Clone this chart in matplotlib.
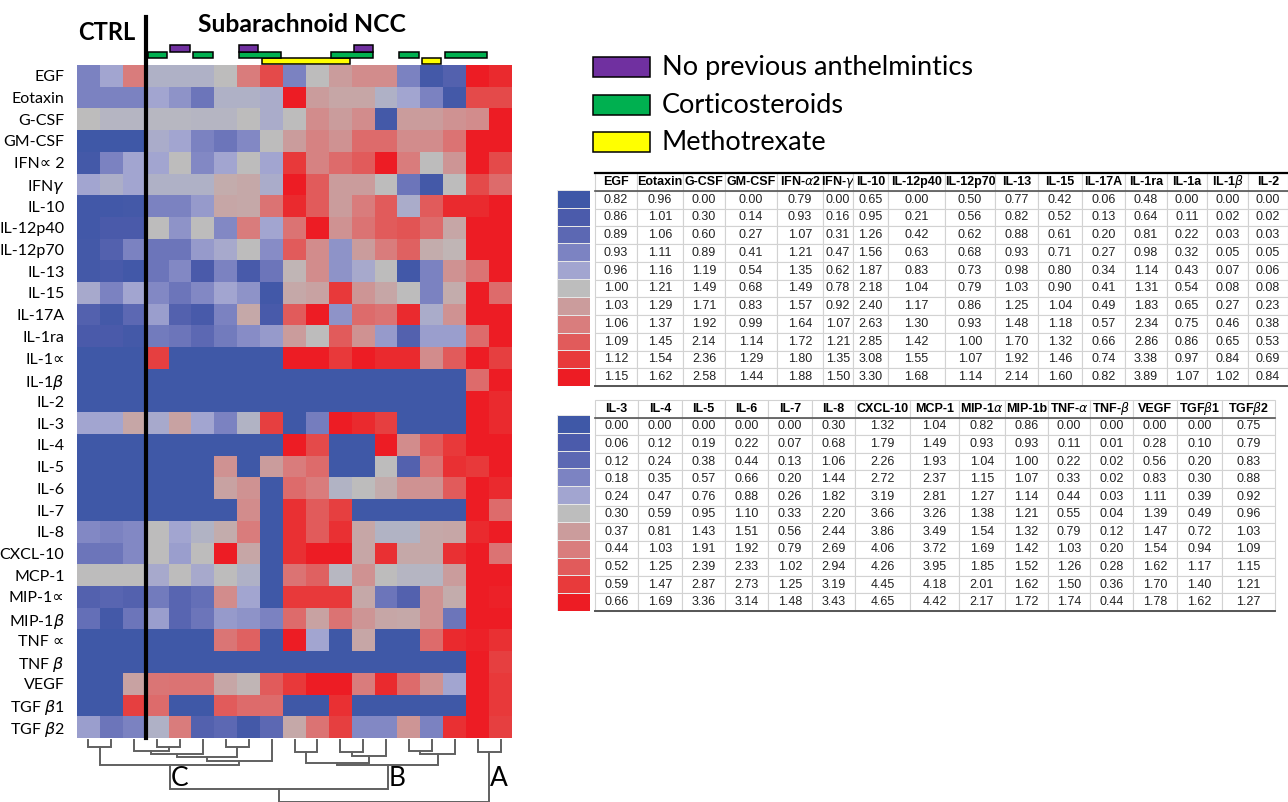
import matplotlib
matplotlib.use('Agg')
import matplotlib.pyplot as plt
import numpy as np
from matplotlib.colors import LinearSegmentedColormap, ListedColormap
from matplotlib.patches import Rectangle

W, H = 1288, 802
LABEL_FONT = ['Lato', 'DejaVu Sans']
TABLE_FONT = ['Liberation Sans', 'DejaVu Sans']

# heatmap rows (cytokines)
cytokines = ['EGF', 'Eotaxin', 'G-CSF', 'GM-CSF', 'IFN∝ 2', 'IFN$\\gamma$', 'IL-10',
             'IL-12p40', 'IL-12p70', 'IL-13', 'IL-15', 'IL-17A', 'IL-1ra', 'IL-1∝',
             'IL-1$\\beta$', 'IL-2', 'IL-3', 'IL-4', 'IL-5', 'IL-6', 'IL-7', 'IL-8',
             'CXCL-10', 'MCP-1', 'MIP-1∝', 'MIP-1$\\beta$', 'TNF ∝', 'TNF $\\beta$',
             'VEGF', 'TGF $\\beta$1', 'TGF $\\beta$2']
n_ctrl = 3

# colour level of every cell, 0 = darkest blue, 5 = grey, 10 = brightest red
# columns: 3 CTRL then 16 subarachnoid NCC
heat_levels = [
    [3, 4, 7, 4.5, 4.5, 4.5, 5, 7, 8.5, 3, 5, 6, 6.5, 6.5, 3, 0.5, 1.5, 10, 9.5],
    [3, 3, 3, 4, 3.5, 2.5, 4.5, 4.5, 4.3, 10, 6, 5.7, 5.7, 4.5, 4, 3, 0.5, 8.5, 8.5],
    [5, 4.7, 4.7, 4.8, 4.8, 4.7, 4.7, 5, 4.3, 5, 6.5, 6, 6.5, 0.5, 6, 6, 6.3, 6.5, 10],
    [0, 0, 0, 4.3, 4, 3, 2.5, 3.2, 5, 6, 6.8, 6.3, 7.5, 7.5, 6.5, 6.5, 7.3, 10, 10],
    [0.5, 3, 4, 4, 5, 3.2, 4, 5, 4, 9, 6.8, 7.5, 8, 10, 7, 5, 6.2, 10, 8.5],
    [4, 4.4, 4, 4.5, 4.5, 4.5, 5.5, 5.6, 4.3, 10, 8, 6, 6, 5, 2.5, 0.5, 5, 8.5, 7.5],
    [0.3, 0.3, 0.5, 3, 3, 3.7, 5.7, 5.6, 7.3, 9.5, 8, 6, 7, 8, 4.3, 8, 9.5, 9.5, 10],
    [0.3, 1, 1, 5, 3.5, 5, 3.2, 7, 4, 7.3, 10, 6.3, 7.3, 8, 8.2, 7.5, 5.7, 10, 10],
    [0.5, 1.5, 3, 2.5, 2.5, 3.7, 4.2, 5, 3.3, 8, 6.5, 3.5, 6, 7, 7.8, 5.5, 5.2, 10, 10],
    [0.5, 0.8, 0.3, 2.5, 3.2, 1, 3, 0.8, 2.5, 5.2, 6.5, 3.5, 4.2, 5, 0.3, 3, 6.3, 7.3, 10],
    [4.2, 3, 4, 3.2, 2.5, 3.2, 4, 3.5, 0.3, 5.6, 5.8, 9, 6.2, 5.7, 5, 3, 5.5, 10, 7.5],
    [1.5, 0.5, 2, 3.8, 1.5, 0.8, 3, 5.6, 0.8, 8, 10, 3.5, 7.5, 7.3, 9.5, 4.3, 6.3, 10, 10],
    [1, 1, 0.5, 2.7, 2.5, 2, 2.7, 3.3, 3.7, 6, 5, 8, 6.3, 3.7, 1.5, 3.8, 3.8, 7.5, 10],
    [0, 0, 0, 8.8, 0, 0, 0, 0, 0, 10, 10, 9, 10, 9.5, 9.5, 6.5, 8, 10, 8.8],
    [0, 0, 0, 0, 0, 0, 0, 0, 0, 0, 0, 0, 0, 0, 0, 0, 0, 7.5, 10],
    [0, 0, 0, 0, 0, 0, 0, 0, 0, 0, 0, 0, 0, 0, 0, 0, 0, 10, 9.5],
    [4, 4, 5.7, 4.2, 5.8, 4, 3, 4.6, 8.8, 0, 2.8, 10, 9.5, 8.8, 0, 0, 0, 10, 9.5],
    [0, 0, 0, 0, 0, 0, 0, 0, 0, 10, 8.5, 0, 0, 10, 6.5, 8, 9, 10, 10],
    [0, 0, 0, 0, 0, 0, 6.3, 0, 6, 7, 7.5, 0, 0, 5, 1.5, 7.3, 9.3, 9, 10],
    [0, 0, 0, 0, 0, 0, 5.8, 6.3, 0, 7.5, 7, 4.6, 5, 5.5, 6.3, 6.3, 8, 10, 9.5],
    [0, 0, 0, 0, 0, 0, 0, 6.5, 0, 9.3, 8, 8.8, 0, 0, 0, 0, 0, 10, 7.5],
    [3.2, 3, 3.2, 5, 4, 4.6, 5.5, 7, 0, 9.3, 8, 9.3, 5.7, 4.6, 4.6, 5.6, 5.7, 9.5, 10],
    [2.5, 2.5, 3.2, 5, 3.8, 5, 10, 5.7, 0, 9.3, 10, 10, 5.7, 9.3, 5.6, 5.6, 9.3, 10, 7.3],
    [5, 5, 5, 4.2, 5, 4.2, 5, 4.5, 0, 7.3, 7.8, 4.8, 6.3, 5, 4.7, 4.7, 6, 10, 10],
    [1.5, 1.8, 1.5, 2.7, 1.8, 2.3, 6.5, 4, 0, 9, 9, 9, 5.6, 2.5, 1.5, 6.3, 5.5, 10, 9.8],
    [2.3, 0.5, 2.5, 3.8, 1.8, 2.5, 3.7, 3.5, 3, 7.5, 5.8, 7.3, 6.2, 5.7, 5.6, 6.3, 2.5, 10, 10],
    [0, 0, 0, 0, 0, 0, 7.2, 7.8, 0, 10, 4, 0, 5.7, 0, 0, 7.5, 9.5, 9.8, 9.3],
    [0, 0, 0, 0, 0, 0, 0, 0, 0, 0, 0, 0, 0, 0, 0, 0, 0, 10, 8.8],
    [0, 0, 5.8, 7.2, 7.3, 7.3, 5.7, 5.2, 8, 9, 10, 10, 7, 9.5, 7.5, 6.3, 4, 10, 9],
    [0, 0, 8.8, 7.5, 0, 0, 8, 7.5, 7.5, 0, 0, 9.3, 0, 0, 0, 0, 0, 10, 9],
    [3.8, 2.5, 3, 4.5, 7, 1.5, 2, 0.5, 2, 5.6, 7.3, 8.8, 3.2, 3.2, 6.2, 3, 9.3, 10, 8.8],
]

# 11-step scale, blue -> grey -> red
scale_colors = ['#3F58A7', '#4B5BAB', '#5C68B3', '#7C83C2', '#A2A5D0', '#BDBDBD',
                '#CB9C9C', '#D97D7D', '#E15B5B', '#E83A3B', '#ED1C24']

# treatment bars above the columns (first col, last col)
no_anthelm_spans = [(4, 4), (7, 7), (12, 12)]
cortico_spans = [(3, 3), (5, 5), (7, 8), (11, 12), (14, 14), (16, 17)]
mtx_spans = [(8, 11), (15, 15)]
legend_labels = ['No previous anthelmintics', 'Corticosteroids', 'Methotrexate']
legend_colors = ['#7030A0', '#00B050', '#FFFF00']

# column dendrogram: (left, right, height below heatmap in px); leaves 0..18
dendro_merges = [
    (0, 1, 9), (3, 4, 9), (2, 20, 13), (21, 5, 16), (6, 7, 9), (22, 23, 19),
    (24, 8, 23), (19, 25, 27),
    (9, 10, 14), (11, 12, 14), (28, 13, 18), (27, 29, 25), (14, 15, 13),
    (31, 16, 16), (30, 32, 27),
    (26, 33, 51), (17, 18, 14), (34, 35, 64),
]
cluster_labels = {26: 'C', 33: 'B', 35: 'A'}

# colour-scale tables
tab1_cols = ['EGF', 'Eotaxin', 'G-CSF', 'GM-CSF', 'IFN-$\\alpha$2', 'IFN-$\\gamma$', 'IL-10',
             'IL-12p40', 'IL-12p70', 'IL-13', 'IL-15', 'IL-17A', 'IL-1ra', 'IL-1a',
             'IL-1$\\beta$', 'IL-2']
tab1_vals = [
    [0.82, 0.86, 0.89, 0.93, 0.96, 1.00, 1.03, 1.06, 1.09, 1.12, 1.15],
    [0.96, 1.01, 1.06, 1.11, 1.16, 1.21, 1.29, 1.37, 1.45, 1.54, 1.62],
    [0.00, 0.30, 0.60, 0.89, 1.19, 1.49, 1.71, 1.92, 2.14, 2.36, 2.58],
    [0.00, 0.14, 0.27, 0.41, 0.54, 0.68, 0.83, 0.99, 1.14, 1.29, 1.44],
    [0.79, 0.93, 1.07, 1.21, 1.35, 1.49, 1.57, 1.64, 1.72, 1.80, 1.88],
    [0.00, 0.16, 0.31, 0.47, 0.62, 0.78, 0.92, 1.07, 1.21, 1.35, 1.50],
    [0.65, 0.95, 1.26, 1.56, 1.87, 2.18, 2.40, 2.63, 2.85, 3.08, 3.30],
    [0.00, 0.21, 0.42, 0.63, 0.83, 1.04, 1.17, 1.30, 1.42, 1.55, 1.68],
    [0.50, 0.56, 0.62, 0.68, 0.73, 0.79, 0.86, 0.93, 1.00, 1.07, 1.14],
    [0.77, 0.82, 0.88, 0.93, 0.98, 1.03, 1.25, 1.48, 1.70, 1.92, 2.14],
    [0.42, 0.52, 0.61, 0.71, 0.80, 0.90, 1.04, 1.18, 1.32, 1.46, 1.60],
    [0.06, 0.13, 0.20, 0.27, 0.34, 0.41, 0.49, 0.57, 0.66, 0.74, 0.82],
    [0.48, 0.64, 0.81, 0.98, 1.14, 1.31, 1.83, 2.34, 2.86, 3.38, 3.89],
    [0.00, 0.11, 0.22, 0.32, 0.43, 0.54, 0.65, 0.75, 0.86, 0.97, 1.07],
    [0.00, 0.02, 0.03, 0.05, 0.07, 0.08, 0.27, 0.46, 0.65, 0.84, 1.02],
    [0.00, 0.02, 0.03, 0.05, 0.06, 0.08, 0.23, 0.38, 0.53, 0.69, 0.84],
]
tab1_widths = [42, 46, 42, 52, 46, 30, 35, 57, 50, 43, 44, 43, 42, 40, 41, 40]

tab2_cols = ['IL-3', 'IL-4', 'IL-5', 'IL-6', 'IL-7', 'IL-8', 'CXCL-10', 'MCP-1',
             'MIP-1$\\alpha$', 'MIP-1b', 'TNF-$\\alpha$', 'TNF-$\\beta$', 'VEGF',
             'TGF$\\beta$1', 'TGF$\\beta$2']
tab2_vals = [
    [0.00, 0.06, 0.12, 0.18, 0.24, 0.30, 0.37, 0.44, 0.52, 0.59, 0.66],
    [0.00, 0.12, 0.24, 0.35, 0.47, 0.59, 0.81, 1.03, 1.25, 1.47, 1.69],
    [0.00, 0.19, 0.38, 0.57, 0.76, 0.95, 1.43, 1.91, 2.39, 2.87, 3.36],
    [0.00, 0.22, 0.44, 0.66, 0.88, 1.10, 1.51, 1.92, 2.33, 2.73, 3.14],
    [0.00, 0.07, 0.13, 0.20, 0.26, 0.33, 0.56, 0.79, 1.02, 1.25, 1.48],
    [0.30, 0.68, 1.06, 1.44, 1.82, 2.20, 2.44, 2.69, 2.94, 3.19, 3.43],
    [1.32, 1.79, 2.26, 2.72, 3.19, 3.66, 3.86, 4.06, 4.26, 4.45, 4.65],
    [1.04, 1.49, 1.93, 2.37, 2.81, 3.26, 3.49, 3.72, 3.95, 4.18, 4.42],
    [0.82, 0.93, 1.04, 1.15, 1.27, 1.38, 1.54, 1.69, 1.85, 2.01, 2.17],
    [0.86, 0.93, 1.00, 1.07, 1.14, 1.21, 1.32, 1.42, 1.52, 1.62, 1.72],
    [0.00, 0.11, 0.22, 0.33, 0.44, 0.55, 0.79, 1.03, 1.26, 1.50, 1.74],
    [0.00, 0.01, 0.02, 0.02, 0.03, 0.04, 0.12, 0.20, 0.28, 0.36, 0.44],
    [0.00, 0.28, 0.56, 0.83, 1.11, 1.39, 1.47, 1.54, 1.62, 1.70, 1.78],
    [0.00, 0.10, 0.20, 0.30, 0.39, 0.49, 0.72, 0.94, 1.17, 1.40, 1.62],
    [0.75, 0.79, 0.83, 0.88, 0.92, 0.96, 1.03, 1.09, 1.15, 1.21, 1.27],
]
tab2_widths = [43, 44, 43, 43, 44, 43, 55, 49, 46, 43, 42, 43, 44, 45, 53]


def px_box(x0, y0, x1, y1):
    return [x0 / W, 1 - y1 / H, (x1 - x0) / W, (y1 - y0) / H]


fig = plt.figure(figsize=(W / 100, H / 100), dpi=100)
fig.patch.set_facecolor('white')

# ---- heatmap
cmap = LinearSegmentedColormap.from_list('bgr', scale_colors)
data = np.array(heat_levels)
n_rows, n_cols = data.shape
HM = (77, 65, 512, 738)
ax = fig.add_axes(px_box(*HM))
ax.imshow(data, cmap=cmap, vmin=0, vmax=10, aspect='auto', interpolation='nearest')
ax.set_yticks(range(n_rows))
ax.set_yticklabels(cytokines, fontsize=11.5, family=LABEL_FONT)
ax.set_xticks([])
ax.tick_params(length=0, pad=9)
for s in ax.spines.values():
    s.set_visible(False)
ax.axvline(n_ctrl - 0.5, ymin=0, ymax=(HM[3] - 17) / (HM[3] - HM[1]),
           color='black', lw=3, clip_on=False)

fig.text(78 / W, 1 - 33 / H, 'CTRL', fontsize=17, fontweight='bold',
         family=LABEL_FONT, ha='left', va='center')
fig.text(302 / W, 1 - 25 / H, 'Subarachnoid NCC', fontsize=17.8, fontweight='bold',
         family=LABEL_FONT, ha='center', va='center')

# ---- treatment bars
tax = fig.add_axes(px_box(77, 40, 512, 65))
tax.set_xlim(-0.5, n_cols - 0.5)
tax.set_ylim(65, 40)
tax.axis('off')
bar_rows = [(mtx_spans, legend_colors[2], 58, 64),
            (cortico_spans, legend_colors[1], 52, 58),
            (no_anthelm_spans, legend_colors[0], 45, 52)]
for spans, col, y0, y1 in bar_rows:
    for a, b in spans:
        tax.add_patch(Rectangle((a - 0.42, y0), b - a + 0.84, y1 - y0,
                                facecolor=col, edgecolor='black', lw=1.1))

# ---- legend
for i, (lab, col) in enumerate(zip(legend_labels, legend_colors)):
    yc = 67 + i * 37.5
    fig.patches.append(Rectangle((593 / W, 1 - (yc + 10) / H), 57 / W, 20 / H,
                                 facecolor=col, edgecolor='black', lw=1.1,
                                 transform=fig.transFigure, figure=fig))
    fig.text(662 / W, 1 - (yc + 1) / H, lab, fontsize=19.5, family=LABEL_FONT,
             ha='left', va='center')

# ---- dendrogram
dax = fig.add_axes(px_box(77, 738, 512, 802))
dax.set_xlim(-0.5, n_cols - 0.5)
dax.set_ylim(64, 0)
dax.axis('off')
pos = {i: (i, 2) for i in range(n_cols)}
for k, (a, b, h) in enumerate(dendro_merges):
    xa, ha = pos[a]
    xb, hb = pos[b]
    dax.plot([xa, xa, xb, xb], [ha, h, h, hb], color='#606060', lw=1.4,
             clip_on=False, solid_joinstyle='miter')
    pos[n_cols + k] = ((xa + xb) / 2, h)
for cid, lab in cluster_labels.items():
    dax.text(pos[cid][0] + 0.05, 41, lab, fontsize=19, family=LABEL_FONT,
             ha='left', va='center')


# ---- colour-scale tables
def draw_table(box, bar_box, cols, vals, widths, top_line):
    tx = fig.add_axes(px_box(*box))
    tx.axis('off')
    rows = [[f'{v:.2f}' for v in r] for r in zip(*vals)]
    tb = tx.table(cellText=rows, colLabels=cols,
                  colWidths=[w / sum(widths) for w in widths],
                  bbox=[0, 0, 1, 1], cellLoc='center')
    tb.auto_set_font_size(False)
    tb.set_fontsize(9)
    for (r, c), cell in tb.get_celld().items():
        cell.set_edgecolor('#d2d2d2')
        cell.set_linewidth(0.8)
        cell.get_text().set_fontfamily(TABLE_FONT)
        cell.get_text().set_color('#222222')
        if r == 0:
            cell.get_text().set_fontweight('bold')
            cell.get_text().set_color('black')
    n = len(rows) + 1
    if top_line:
        tx.plot([0, 1], [1, 1], color='black', lw=1.6, transform=tx.transAxes, clip_on=False)
    tx.plot([0, 1], [1 - 1 / n, 1 - 1 / n], color='#555555', lw=1.2,
            transform=tx.transAxes, clip_on=False)
    tx.plot([0, 1], [0, 0], color='#555555', lw=1.4, transform=tx.transAxes, clip_on=False)

    bx = fig.add_axes(px_box(*bar_box))
    bx.pcolormesh(np.arange(len(scale_colors)).reshape(-1, 1),
                  cmap=ListedColormap(scale_colors), edgecolors='#e6e6e6', linewidth=0.4)
    bx.set_ylim(len(scale_colors), 0)
    bx.axis('off')


draw_table((595, 173, 1288, 386), (557, 190, 590, 386),
           tab1_cols, tab1_vals, tab1_widths, True)
draw_table((595, 400, 1275, 611), (557, 415, 590, 611),
           tab2_cols, tab2_vals, tab2_widths, False)

fig.savefig('out.png', dpi=100, facecolor='white')
